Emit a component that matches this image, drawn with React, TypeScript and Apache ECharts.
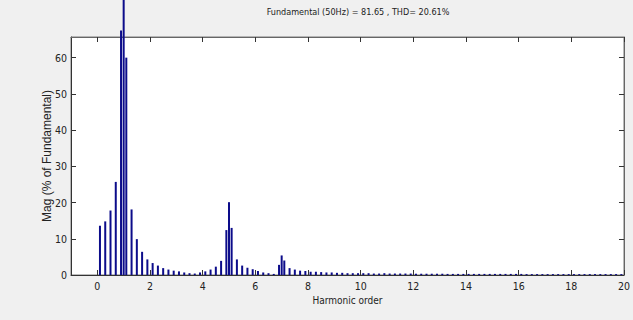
import React, { useEffect, useRef } from "react";
import * as echarts from "echarts";

// Harmonic orders of the interharmonic (sideband) bars, 5 Hz off each 10 Hz step
const sidebandOrders = [
  0.1, 0.3, 0.5, 0.7, 0.9, 1.1, 1.3, 1.5, 1.7, 1.9,
  2.1, 2.3, 2.5, 2.7, 2.9, 3.1, 3.3, 3.5, 3.7, 3.9,
  4.1, 4.3, 4.5, 4.7, 4.9, 5.1, 5.3, 5.5, 5.7, 5.9,
  6.1, 6.3, 6.5, 6.7, 6.9, 7.1, 7.3, 7.5, 7.7, 7.9,
  8.1, 8.3, 8.5, 8.7, 8.9, 9.1, 9.3, 9.5, 9.7, 9.9,
  10.1, 10.3, 10.5, 10.7, 10.9, 11.1, 11.3, 11.5, 11.7, 11.9,
  12.1, 12.3, 12.5, 12.7, 12.9, 13.1, 13.3, 13.5, 13.7, 13.9,
  14.1, 14.3, 14.5, 14.7, 14.9, 15.1, 15.3, 15.5, 15.7, 15.9,
  16.1, 16.3, 16.5, 16.7, 16.9, 17.1, 17.3, 17.5, 17.7, 17.9,
  18.1, 18.3, 18.5, 18.7, 18.9, 19.1, 19.3, 19.5, 19.7, 19.9,
];
const sidebandMag = [
  13.6, 14.8, 17.8, 25.7, 67.5, 60.0, 18.1, 9.9, 6.4, 4.3,
  3.3, 2.6, 1.9, 1.5, 1.2, 1.0, 0.7, 0.5, 0.4, 0.7,
  1.0, 1.5, 2.3, 3.9, 12.4, 13.0, 4.3, 2.6, 2.0, 1.6,
  1.1, 0.7, 0.5, 0.3, 2.8, 4.0, 1.9, 1.5, 1.2, 1.1,
  0.9, 0.9, 0.8, 0.7, 0.7, 0.6, 0.6, 0.5, 0.5, 0.5,
  0.5, 0.5, 0.4, 0.4, 0.5, 0.4, 0.4, 0.4, 0.4, 0.4,
  0.35, 0.35, 0.35, 0.35, 0.35, 0.35, 0.3, 0.3, 0.3, 0.3,
  0.3, 0.3, 0.3, 0.3, 0.3, 0.3, 0.3, 0.3, 0.3, 0.3,
  0.3, 0.25, 0.25, 0.25, 0.25, 0.25, 0.25, 0.25, 0.25, 0.25,
  0.25, 0.25, 0.25, 0.25, 0.25, 0.25, 0.25, 0.25, 0.25, 0.25,
];
// Integer harmonics
const harmonicOrders = [1, 5, 7];
const harmonicMag = [100, 20.1, 5.4];

const xTicks = [0, 2, 4, 6, 8, 10, 12, 14, 16, 18, 20];
const yTicks = [0, 10, 20, 30, 40, 50, 60];

const titleText = "Fundamental (50Hz) = 81.65 , THD= 20.61%";
const xName = "Harmonic order";
const yName = "Mag (% of Fundamental)";

const NARROW = '"Liberation Sans Narrow", "DejaVu Sans Condensed", "Liberation Sans", Arial, sans-serif';
const REGULAR = '"Liberation Sans", Arial, sans-serif';

export default function App() {
  const ref = useRef<HTMLDivElement>(null);
  useEffect(() => {
    const chart = echarts.init(ref.current!, null, { renderer: "svg" });
    const data: [number, number][] = [];
    sidebandOrders.forEach((o, i) => data.push([o, sidebandMag[i]]));
    harmonicOrders.forEach((o, i) => data.push([o, harmonicMag[i]]));
    data.sort((a, b) => a[0] - b[0]);

    const tickStyle = { color: "#333", width: 1 };
    chart.setOption({
      animation: false,
      backgroundColor: "#f0f0f0",
      grid: {
        left: 71,
        right: 8,
        top: 37,
        bottom: 45,
        show: true,
        backgroundColor: "#ffffff",
        borderColor: "#7a7a7a",
        borderWidth: 1,
      },
      graphic: [
        {
          type: "text",
          x: 358,
          y: 12,
          style: {
            text: titleText,
            fill: "#222",
            fontSize: 9,
            fontFamily: NARROW,
            align: "center",
            verticalAlign: "middle",
          },
        },
      ],
      xAxis: [
        {
          type: "value",
          min: -1,
          max: 20,
          position: "bottom",
          axisLine: { show: true, onZero: false, lineStyle: { color: "#333" } },
          axisTick: { show: true, inside: true, length: 5, customValues: xTicks, lineStyle: tickStyle },
          axisLabel: { customValues: xTicks, margin: 5, fontSize: 10.5, fontFamily: NARROW, color: "#222" },
          splitLine: { show: false },
          name: xName,
          nameLocation: "middle",
          nameGap: 20,
          nameMoveOverlap: false,
          nameTextStyle: { fontSize: 10, fontFamily: NARROW, color: "#222" },
        },
        {
          type: "value",
          min: -1,
          max: 20,
          position: "top",
          axisLine: { show: true, onZero: false, lineStyle: { color: "#666" } },
          axisTick: { show: true, inside: true, length: 5, customValues: xTicks, lineStyle: tickStyle },
          axisLabel: { show: false },
          splitLine: { show: false },
        },
      ],
      yAxis: [
        {
          type: "value",
          min: 0,
          max: 65.7,
          position: "left",
          axisLine: { show: true, onZero: false, lineStyle: { color: "#333" } },
          axisTick: { show: true, inside: true, length: 5, customValues: yTicks, lineStyle: tickStyle },
          axisLabel: { customValues: yTicks, margin: 4, fontSize: 10.5, fontFamily: NARROW, color: "#222" },
          splitLine: { show: false },
          name: yName,
          nameLocation: "middle",
          nameGap: 18,
          nameMoveOverlap: false,
          nameRotate: 90,
          nameTextStyle: { fontSize: 12, fontFamily: REGULAR, color: "#222" },
        },
        {
          type: "value",
          min: 0,
          max: 65.7,
          position: "right",
          axisLine: { show: true, onZero: false, lineStyle: { color: "#666" } },
          axisTick: { show: true, inside: true, length: 5, customValues: yTicks, lineStyle: tickStyle },
          axisLabel: { show: false },
          splitLine: { show: false },
        },
      ],
      series: [
        {
          type: "bar",
          xAxisIndex: 0,
          yAxisIndex: 0,
          data,
          barWidth: 2,
          clip: false,
          silent: true,
          itemStyle: { color: "#0c0c8a" },
        },
      ],
    });
    return () => chart.dispose();
  }, []);
  return (
    <div
      ref={ref}
      style={{ position: "fixed", left: 0, top: 0, width: 633, height: 320, background: "#f0f0f0" }}
    />
  );
}
